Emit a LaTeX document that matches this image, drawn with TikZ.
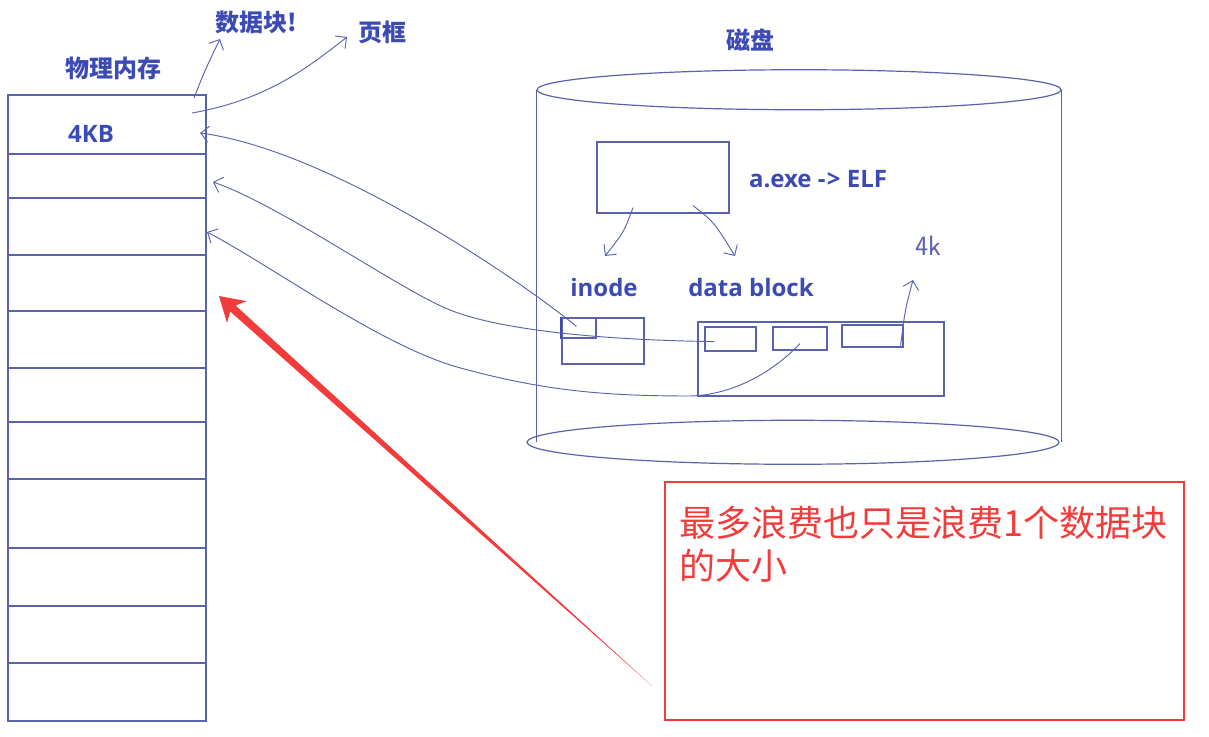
\documentclass[tikz,border=0pt]{standalone}
\usepackage{fontspec}
\usetikzlibrary{arrows.meta,calc,fit}
\newfontfamily\cjk{Noto Sans CJK SC}
\newfontfamily\latin{Open Sans}
\definecolor{ink}{HTML}{3C4BB4}
\definecolor{pen}{HTML}{5A62AE}
\definecolor{warn}{HTML}{F23B3B}
\tikzset{
  cell/.style={draw=pen,line width=1pt,inner sep=0pt},
  box/.style={draw=pen,line width=.9pt,inner sep=0pt},
  stroke/.style={draw=pen,line width=.7pt,-{Straight Barb[length=6pt,width=12pt]}},
  lbl/.style={text=ink,font=\cjk\bfseries\fontsize{18}{20}\selectfont,inner sep=0pt,anchor=base},
  tag/.style={text=ink,font=\latin\bfseries\fontsize{18}{20}\selectfont,inner sep=0pt,anchor=base},
}
\begin{document}
\begin{tikzpicture}[x=.75pt,y=-.75pt]
  \path[use as bounding box] (0,0) rectangle (1209,736);
  \foreach \t/\b [count=\i] in {95/154,154/198,198/255,255/311,311/368,368/422,422/479,479/548,548/606,606/663,663/721}
    \node[cell,fit={(8,\t) (206,\b)}] (m\i) {};
  \node[lbl] (mem) at (113,77) {物理内存};
  \node[tag] (kb) at (91,142) {4KB};
  \node[lbl] (blk) at (256,31) {数据块!};
  \node[lbl] (frame) at (382,41) {页框};
  \coordinate (s1) at (194,98);
  \coordinate (s2) at (192,113);
  \draw[stroke] (s1) .. controls (205,70) .. ([shift={(-36,8)}]blk.base);
  \draw[stroke] (s2) .. controls (265,100) and (305,70) .. ([shift={(-35,-4)}]frame.base);

  \node[fit={(537,90) (1061,442)},inner sep=0pt] (disk) {};
  \draw[pen,line width=.9pt] (disk.north) ellipse [x radius=262,y radius=20]
    ([shift={(-6,0)}]disk.south) ellipse [x radius=266,y radius=22];
  \draw[pen,line width=.9pt] (disk.north west) -- (disk.south west) (disk.north east) -- (disk.south east);
  \node[lbl] (dsk) at (750,49) {磁盘};

  \node[box,fit={(597,142) (729,213)}] (elf) {};
  \node[tag] (exe) at (818,187) {a.exe -\kern1pt> ELF};
  \node[tag] (ino) at (604,296) {inode};
  \node[tag] (dat) at (751,296) {data block};
  \draw[stroke] ([shift={(-30,-6)}]elf.south) .. controls (624,232) .. ([shift={(1,-40)}]ino.base);
  \draw[stroke] ([shift={(30,-8)}]elf.south) .. controls (714,222) .. ([shift={(-16,-40)}]dat.base);

  \node[box,fit={(562,318) (644,364)}] (inode) {};
  \node[box,fit={(562,318) (596,338)}] (slot) {};
  \draw[ink,line width=1.4pt] (slot.north west) -- (slot.south west);
  \node[box,fit={(698,322) (944,396)}] (blocks) {};
  \node[box,fit={(705,327) (756,351)}] (b1) {};
  \node[box,fit={(773,327) (827,350)}] (b2) {};
  \node[box,fit={(842,325) (903,347)}] (b3) {};
  \node[text=pen,font=\sffamily\fontsize{21}{21}\selectfont] (size) at (928,246) {4k};
  \draw[stroke] ([shift={(-3,-2)}]b3.south east) .. controls (905,310) .. ([shift={(-15,34)}]size.center);

  \coordinate (t1) at (200,133);
  \coordinate (t2) at (213,182);
  \coordinate (t3) at (207,232);
  \draw[stroke] ([shift={(15,9)}]slot.north west) .. controls (520,280) and (330,150) .. (t1);
  \draw[stroke] ([shift={(10,-10)}]b1.south west) .. controls (600,340) and (500,330) .. (450,310)
    .. controls (400,290) and (280,205) .. (t2);
  \draw[stroke] ([shift={(0,-7)}]b2.south) .. controls (770,375) and (730,395) .. (690,396)
    .. controls (600,396) and (540,390) .. (457,367) .. controls (380,345) and (270,265) .. (t3);

  \node[draw=warn,line width=1.5pt,fit={(665,482) (1184,720)},inner sep=0pt] (note) {};
  \node[text=warn,font=\cjk\fontsize{27}{32}\selectfont,align=left,anchor=north west,inner sep=0pt] (msg) at (679,506) {最多浪费也只是浪费1个数据块\\的大小};
  \coordinate (rtail) at (652,686);
  \coordinate (rtip) at (219,296);
  \fill[warn] (rtail) -- ($(rtip)!14pt!(rtail)!3pt!90:(rtail)$) -- ($(rtip)!18pt!(rtail)!11pt!90:(rtail)$)
    -- (rtip) -- ($(rtip)!18pt!(rtail)!11pt!-90:(rtail)$) -- ($(rtip)!14pt!(rtail)!3pt!-90:(rtail)$) -- cycle;
\end{tikzpicture}
\end{document}
